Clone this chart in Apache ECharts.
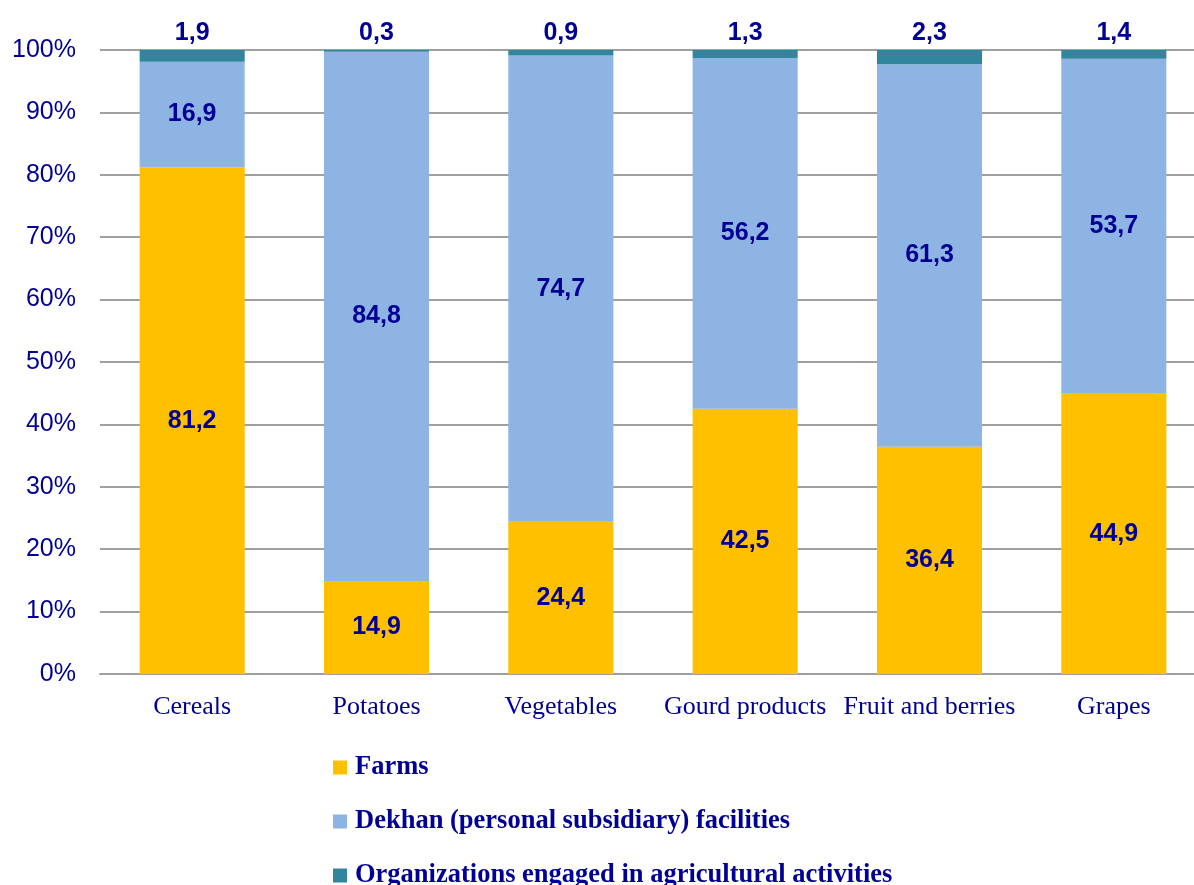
<!DOCTYPE html>
<html>
<head>
<meta charset="utf-8">
<script src="https://cdn.jsdelivr.net/npm/echarts@6/dist/echarts.min.js"></script>
<style>
  html, body { margin: 0; padding: 0; background: #fff; overflow: hidden; }
  #chart { width: 1206px; height: 900px; }
</style>
</head>
<body>
<div id="chart"></div>
<script>
// categories and shares, %
var categories = ['Cereals', 'Potatoes', 'Vegetables', 'Gourd products', 'Fruit and berries', 'Grapes'];
var farms = [81.2, 14.9, 24.4, 42.5, 36.4, 44.9];
var dekhan = [16.9, 84.8, 74.7, 56.2, 61.3, 53.7];
var organizations = [1.9, 0.3, 0.9, 1.3, 2.3, 1.4];
var seriesNames = ['Farms', 'Dekhan (personal subsidiary) facilities', 'Organizations engaged in agricultural activities'];

var navy = '#000096';
var fmt = function(p) { return String(p.value).replace('.', ','); };

// chart is a bit wider/taller than the window, the last category and legend row get cropped like in the original
var chart = echarts.init(document.getElementById('chart'));

var labelStyle = {
	show: true,
	position: 'inside',
	color: navy,
	fontFamily: 'Liberation Sans, Arial, sans-serif',
	fontWeight: 'bold',
	fontSize: 25,
	formatter: fmt
};

chart.setOption({
	animation: false,
	grid: { left: 100, right: 0, top: 50, bottom: 226 },
	legend: {
		orient: 'vertical',
		left: 333,
		top: 754,
		padding: 0,
		itemWidth: 14,
		itemHeight: 14,
		itemGap: 27,
		icon: 'rect',
		textStyle: {
			color: navy,
			fontFamily: 'Liberation Serif, Times New Roman, serif',
			fontWeight: 'bold',
			fontSize: 26.5,
			lineHeight: 27,
			padding: [0, 0, 0, 3]
		},
		data: seriesNames
	},
	xAxis: {
		type: 'category',
		data: categories,
		axisLine: { lineStyle: { color: '#a0a0a0', width: 2 } },
		axisTick: { show: false },
		axisLabel: {
			interval: 0,
			color: navy,
			fontFamily: 'Liberation Serif, Times New Roman, serif',
			fontSize: 26,
			margin: 20
		}
	},
	yAxis: {
		type: 'value',
		min: 0,
		max: 100,
		interval: 10,
		axisLine: { show: false },
		axisTick: { show: false },
		splitLine: { lineStyle: { color: '#a0a0a0', width: 2 } },
		axisLabel: {
			color: navy,
			fontFamily: 'Liberation Sans, Arial, sans-serif',
			fontSize: 25,
			margin: 24,
			formatter: '{value}%'
		}
	},
	series: [
		{
			name: seriesNames[0], type: 'bar', stack: 'total', barWidth: '57%',
			itemStyle: { color: '#ffc000' },
			label: labelStyle,
			data: farms
		},
		{
			name: seriesNames[1], type: 'bar', stack: 'total',
			itemStyle: { color: '#8eb4e3' },
			label: labelStyle,
			data: dekhan
		},
		{
			name: seriesNames[2], type: 'bar', stack: 'total',
			itemStyle: { color: '#31859c' },
			label: Object.assign({}, labelStyle, { position: 'top', distance: 4 }),
			data: organizations
		}
	]
});
</script>
</body>
</html>
